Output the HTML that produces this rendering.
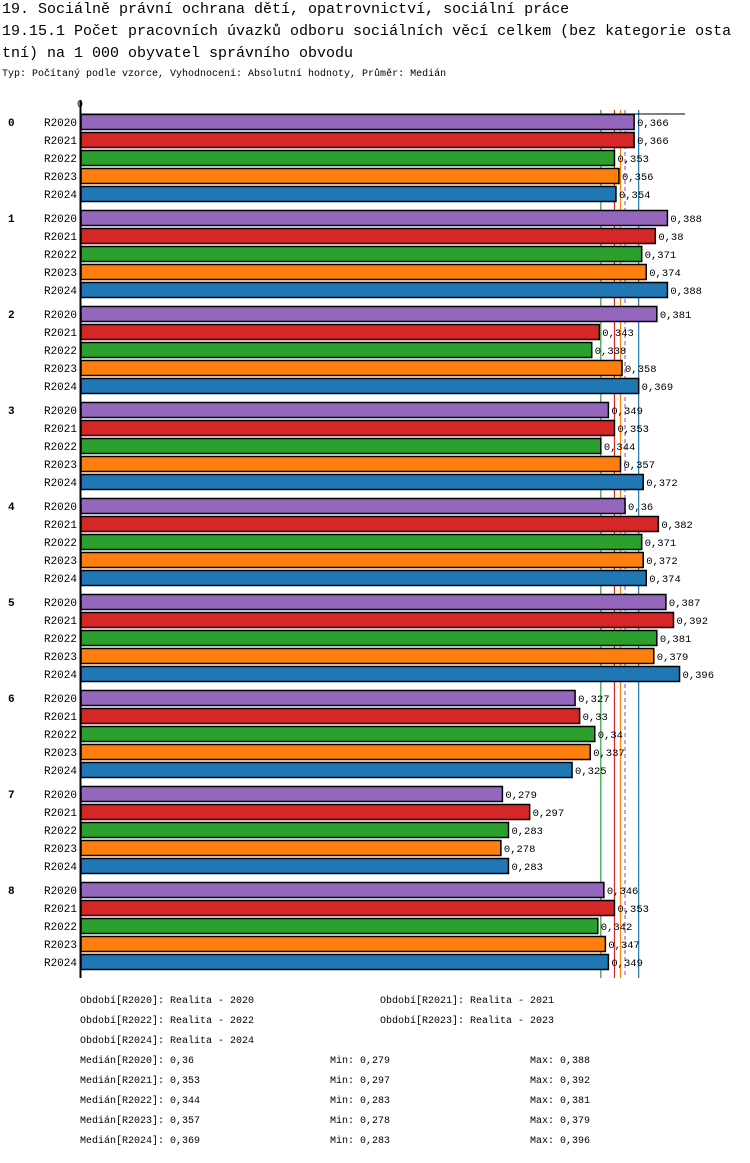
<!DOCTYPE html>
<html><head><meta charset="utf-8"><style>
body{margin:0;background:#fff;width:750px;height:1158px;overflow:hidden}
svg text{font-family:"Liberation Mono","DejaVu Sans Mono",monospace}
</style></head><body>
<svg id="c" width="750" height="1158">
<text x="2" y="13" font-size="15">19. Sociálně právní ochrana dětí, opatrovnictví, sociální práce</text>
<text x="2" y="35" font-size="15">19.15.1 Počet pracovních úvazků odboru sociálních věcí celkem (bez kategorie osta</text>
<text x="2" y="57" font-size="15">tní) na 1 000 obyvatel správního obvodu</text>
<text x="2" y="76" font-size="10">Typ: Počítaný podle vzorce, Vyhodnocení: Absolutní hodnoty, Průměr: Medián</text>
<text x="80" y="107" font-size="10" text-anchor="middle">0</text>
<g id="lines"></g>
<g id="bars"></g>
<line x1="80" y1="114" x2="685" y2="114" stroke="#000" stroke-width="1"/>
<line x1="80.5" y1="100" x2="80.5" y2="978" stroke="#000" stroke-width="2"/>
<g id="legend" font-size="10"></g>
</svg>
<script>
const groups=["0","1","2","3","4","5","6","7","8"];
const series=["R2020","R2021","R2022","R2023","R2024"];
const colors=["#9467bd","#d62728","#2ca02c","#ff7f0e","#1f77b4"];
const v2020=[0.366,0.388,0.381,0.349,0.36,0.387,0.327,0.279,0.346];
const v2021=[0.366,0.38,0.343,0.353,0.382,0.392,0.33,0.297,0.353];
const v2022=[0.353,0.371,0.338,0.344,0.371,0.381,0.34,0.283,0.342];
const v2023=[0.356,0.374,0.358,0.357,0.372,0.379,0.337,0.278,0.347];
const v2024=[0.354,0.388,0.369,0.372,0.374,0.396,0.325,0.283,0.349];
const medians=[0.36,0.353,0.344,0.357,0.369];
const labels=["Období[R2020]: Realita - 2020","Období[R2021]: Realita - 2021","Období[R2022]: Realita - 2022","Období[R2023]: Realita - 2023","Období[R2024]: Realita - 2024"];
const vals=[v2020,v2021,v2022,v2023,v2024];
const NS="http://www.w3.org/2000/svg";
const x=v=>80+v*1514;
const y=(g,s)=>114+g*96+s*18;
const fmt=v=>String(v).replace('.',',');
function mk(tag,attrs,parent,txt){const e=document.createElementNS(NS,tag);for(const k in attrs)e.setAttribute(k,attrs[k]);if(txt!==undefined)e.textContent=txt;parent.appendChild(e);return e;}
const bars=document.getElementById('bars');
groups.forEach((g,gi)=>{
  const gl=mk('text',{x:8,y:y(gi,0)+12,'font-size':11,'font-weight':'bold'},bars,g);
  
  
  series.forEach((s,si)=>{
    const v=vals[si][gi];
    const sl=mk('text',{x:77,y:y(gi,si)+12,'font-size':11,'text-anchor':'end'},bars,s);
    
    
    const r=mk('rect',{x:81,y:y(gi,si)+0.5,width:x(v)-81,height:15,fill:colors[si],stroke:'#000','stroke-width':1.5},bars);
    
    
    const t=mk('text',{x:x(v)+3,y:y(gi,si)+12,'font-size':10.5},bars,fmt(v));
    
    
  });
});
const lines=document.getElementById('lines');
medians.forEach((m,i)=>{
  const l=mk('line',{x1:x(m),x2:x(m),y1:110,y2:978,stroke:colors[i],'stroke-width':1.2},lines);
  if(i===0)l.setAttribute('stroke-dasharray','4,3');
  
  
});
const lg=document.getElementById('legend');
labels.forEach((s,i)=>{
  const t=mk('text',{x:i%2?380:80,y:1003+Math.floor(i/2)*20},lg,s);
  
  
});
series.forEach((s,i)=>{
  const vs=groups.map((g,gi)=>vals[i][gi]);
  const yy=1063+i*20;
  const a=mk('text',{x:80,y:yy},lg,'Medián['+s+']: '+fmt(medians[i]));
  
  
  const b=mk('text',{x:330,y:yy},lg,'Min: '+fmt(Math.min(...vs)));
  
  
  const c=mk('text',{x:530,y:yy},lg,'Max: '+fmt(Math.max(...vs)));
  
  
});
</script>
</body></html>
